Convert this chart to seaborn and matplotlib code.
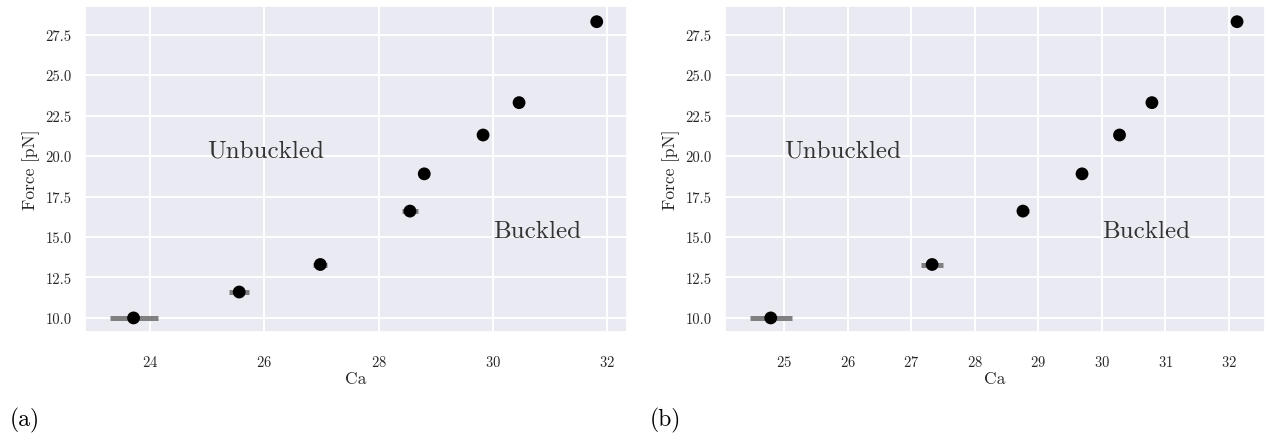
import numpy as np
import pandas as pd
import matplotlib
matplotlib.use("Agg")
import matplotlib.pyplot as plt
import seaborn as sns

# ---- data ----
force_a = [10.0, 11.6, 13.3, 16.6, 18.9, 21.3, 23.3, 28.3]
ca_a = [23.71, 25.56, 26.98, 28.55, 28.80, 29.83, 30.46, 31.82]
ca_err_a = [0.42, 0.17, 0.12, 0.14, 0.05, 0.05, 0.05, 0.05]

force_b = [10.0, 13.3, 16.6, 18.9, 21.3, 23.3, 28.3]
ca_b = [24.79, 27.33, 28.76, 29.69, 30.28, 30.79, 32.13]
ca_err_b = [0.33, 0.17, 0.10, 0.05, 0.05, 0.05, 0.05]

panel_labels = ["(a)", "(b)"]
x_label = "Ca"
y_label = "Force [pN]"
region_labels = ["Unbuckled", "Buckled"]

sns.set_theme(style="darkgrid")
plt.rcParams["font.family"] = ["cmr10", "DejaVu Serif"]
plt.rcParams["mathtext.fontset"] = "cm"
plt.rcParams["axes.formatter.use_mathtext"] = True

fig = plt.figure(figsize=(12.66, 4.39), dpi=100)
W, H = 1266, 439
ax_a = fig.add_axes([85 / W, 1 - 333 / H, (627 - 85) / W, (333 - 7) / H])
ax_b = fig.add_axes([725 / W, 1 - 333 / H, (1265 - 725) / W, (333 - 7) / H])

panels = [
    (ax_a, ca_a, force_a, ca_err_a, (22.86, 32.35), [24, 26, 28, 30, 32]),
    (ax_b, ca_b, force_b, ca_err_b, (24.07, 32.57), [25, 26, 27, 28, 29, 30, 31, 32]),
]

yt = [10.0, 12.5, 15.0, 17.5, 20.0, 22.5, 25.0, 27.5]
for ax, ca, force, err, xlim, xticks in panels:
    df = pd.DataFrame({"Ca": ca, "Force": force, "err": err})
    ax.errorbar(df["Ca"], df["Force"], xerr=df["err"], fmt="none",
                ecolor="#808080", elinewidth=3.6, capsize=0, zorder=2)
    sns.scatterplot(data=df, x="Ca", y="Force", ax=ax, color="black",
                    s=85, edgecolor="none", zorder=3)
    ax.set_xlim(*xlim)
    ax.set_ylim(9.13, 29.27)
    ax.set_xticks(xticks)
    ax.set_yticks(yt)
    ax.set_yticklabels([f"{v:.1f}" for v in yt])
    ax.tick_params(labelsize=10.5, colors=".15")
    ax.tick_params(axis="x", pad=10)
    ax.set_xlabel(x_label, fontsize=12.5, color=".15", labelpad=1)
    ax.set_ylabel(y_label, fontsize=12.5, color=".15")
    ax.grid(True, color="white", linewidth=1.4)
    ax.text(25.0, 20.0, region_labels[0], fontsize=18, color=".2", va="baseline")
    ax.text(30.0, 15.0, region_labels[1], fontsize=18, color=".2", va="baseline")

fig.text(10 / W, 1 - 420 / H, panel_labels[0], fontsize=17, va="center", ha="left", color="black")
fig.text(650 / W, 1 - 420 / H, panel_labels[1], fontsize=17, va="center", ha="left", color="black")

fig.savefig("out.png", dpi=100, facecolor="white")
